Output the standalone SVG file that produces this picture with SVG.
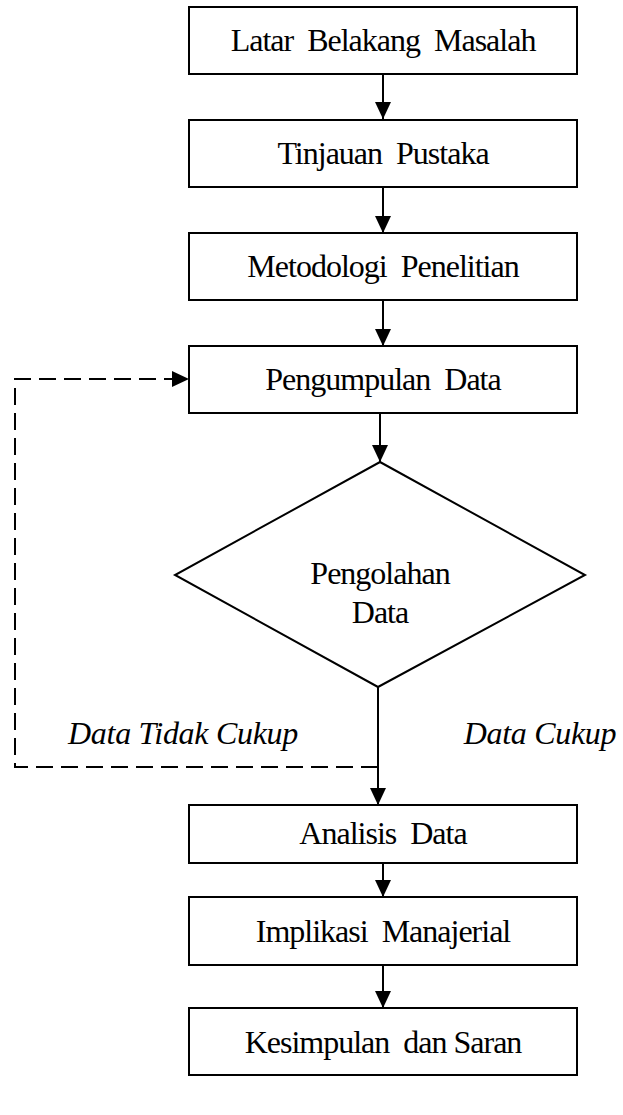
<svg xmlns="http://www.w3.org/2000/svg" width="623" height="1115" viewBox="0 0 623 1115">
<defs>
<marker id="ah" markerWidth="18" markerHeight="16" refX="17" refY="8" orient="auto" markerUnits="userSpaceOnUse">
<path d="M0,0 L17,8 L0,16 Z" fill="#000"/>
</marker>
<style>
.box{fill:#fff;stroke:#000;stroke-width:2}
.t{font-family:"Liberation Serif","Times New Roman",serif;font-size:32px;letter-spacing:-1px;fill:#000;text-anchor:middle;word-spacing:7px}
.lbl{font-family:"Liberation Serif","Times New Roman",serif;font-size:32px;font-style:italic;letter-spacing:-0.3px;fill:#000;text-anchor:middle}
.ln{stroke:#000;stroke-width:2;fill:none}
.dash{stroke:#000;stroke-width:2;fill:none;stroke-dasharray:17,8}
</style>
</defs>
<rect width="623" height="1115" fill="#fff"/>
<g id="connectors">
<line class="ln" x1="383" y1="74" x2="383" y2="119" marker-end="url(#ah)"/>
<line class="ln" x1="383" y1="187" x2="383" y2="233" marker-end="url(#ah)"/>
<line class="ln" x1="383" y1="300" x2="383" y2="346" marker-end="url(#ah)"/>
<line class="ln" x1="380" y1="413" x2="380" y2="462" marker-end="url(#ah)"/>
<line class="ln" x1="378" y1="687" x2="378" y2="805" marker-end="url(#ah)"/>
<polyline class="dash" points="378,767 15,767 15,379 189,379" marker-end="url(#ah)"/>
<line class="ln" x1="383" y1="863" x2="383" y2="897" marker-end="url(#ah)"/>
<line class="ln" x1="383" y1="965" x2="383" y2="1008" marker-end="url(#ah)"/>
</g>
<g id="n1"><rect class="box" x="189" y="7" width="388" height="67"/><text class="t" x="383" y="51">Latar Belakang Masalah</text></g>
<g id="n2"><rect class="box" x="189" y="120" width="388" height="67"/><text class="t" x="383" y="164">Tinjauan Pustaka</text></g>
<g id="n3"><rect class="box" x="189" y="233" width="388" height="67"/><text class="t" x="383" y="277">Metodologi Penelitian</text></g>
<g id="n4"><rect class="box" x="189" y="346" width="388" height="67"/><text class="t" x="383" y="390">Pengumpulan Data</text></g>
<g id="n5"><polygon class="box" points="380,462 585,575 378,687 175,575"/><text class="t" x="380" y="584">Pengolahan</text><text class="t" x="380" y="623">Data</text></g>
<g id="lbl1"><text class="lbl" x="183" y="744">Data Tidak Cukup</text></g>
<g id="lbl2"><text class="lbl" x="540" y="744">Data Cukup</text></g>
<g id="n6"><rect class="box" x="189" y="805" width="388" height="58"/><text class="t" x="383" y="844">Analisis Data</text></g>
<g id="n7"><rect class="box" x="189" y="897" width="388" height="68"/><text class="t" x="383" y="942">Implikasi Manajerial</text></g>
<g id="n8"><rect class="box" x="189" y="1008" width="388" height="67"/><text class="t" x="383" y="1053">Kesimpulan dan<tspan style="word-spacing:0px"> Saran</tspan></text></g>
</svg>
